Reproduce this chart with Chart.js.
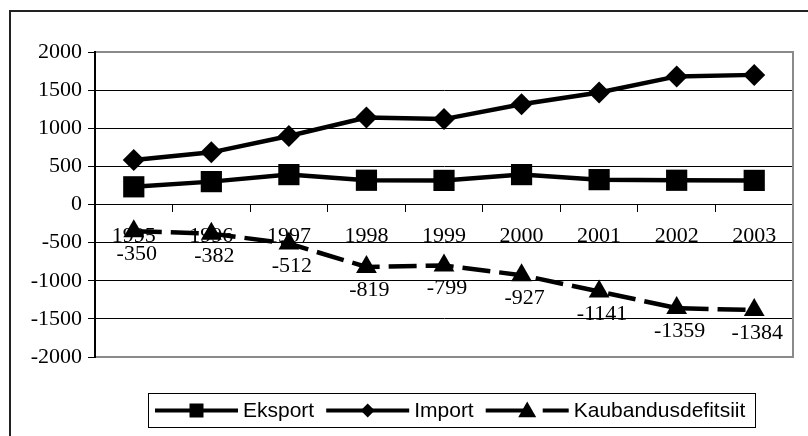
<!DOCTYPE html>
<html><head><meta charset="utf-8">
<style>
html,body{margin:0;padding:0;background:#fff;}
#wrap{position:relative;width:808px;height:436px;overflow:hidden;background:#fff;}
#frame{position:absolute;left:9px;top:10px;width:830px;height:460px;border-left:2px solid #222;border-top:2px solid #222;box-sizing:border-box;}
canvas{position:absolute;left:0;top:0;}
</style>
<script src="https://cdn.jsdelivr.net/npm/chart.js@4/dist/chart.umd.min.js"></script>
</head><body>
<div id="wrap"><div id="frame"></div><canvas id="c" width="808" height="436"></canvas></div>
<script>
const years = ['1995','1996','1997','1998','1999','2000','2001','2002','2003'];
const eksport = [232, 300, 392, 318, 316, 392, 326, 318, 316];
const importV = [585, 684, 898, 1140, 1120, 1315, 1470, 1680, 1700];
const defitsiit = [-350, -382, -512, -819, -799, -927, -1141, -1359, -1384];
const seriesNames = ['Eksport', 'Import', 'Kaubandusdefitsiit'];
const yMin = -2000, yMax = 2000, yStep = 500;

const SERIF = '"Liberation Serif", "Times New Roman", serif';
const SANS = '"Liberation Sans", Arial, sans-serif';

const plotFrame = {
  id: 'plotFrame',
  afterDraw(chart) {
    const {ctx, chartArea: a} = chart;
    ctx.save();
    ctx.strokeStyle = '#8a8a8a';
    ctx.lineWidth = 2;
    ctx.beginPath();
    ctx.moveTo(a.left + 1, a.top);
    ctx.lineTo(a.right, a.top);
    ctx.lineTo(a.right, a.bottom);
    ctx.lineTo(a.left + 1, a.bottom);
    ctx.stroke();
    ctx.restore();
  }
};

const valueLabels = {
  id: 'valueLabels',
  afterDatasetsDraw(chart) {
    const ctx = chart.ctx;
    const meta = chart.getDatasetMeta(2);
    ctx.save();
    ctx.font = '22px ' + SERIF;
    ctx.fillStyle = '#000';
    ctx.textAlign = 'center';
    ctx.textBaseline = 'middle';
    meta.data.forEach((pt, i) => {
      ctx.fillText(String(defitsiit[i]), pt.x + 3, pt.y + 23);
    });
    ctx.restore();
  }
};

function drawMarker(ctx, style, x, y, r) {
  ctx.beginPath();
  if (style === 'rect') {
    ctx.rect(x - r, y - r, 2 * r, 2 * r);
  } else if (style === 'diamond') {
    ctx.moveTo(x, y - r); ctx.lineTo(x + r, y); ctx.lineTo(x, y + r); ctx.lineTo(x - r, y); ctx.closePath();
  } else {
    ctx.moveTo(x, y - r); ctx.lineTo(x + r * 1.0, y + r * 0.75); ctx.lineTo(x - r * 1.0, y + r * 0.75); ctx.closePath();
  }
  ctx.fill();
}

const customLegend = {
  id: 'customLegend',
  afterDraw(chart) {
    const ctx = chart.ctx;
    const box = {l: 148.5, t: 393.5, r: 755.5, b: 427.5};
    const cy = (box.t + box.b) / 2;
    ctx.save();
    ctx.strokeStyle = '#000';
    ctx.lineWidth = 1;
    ctx.strokeRect(box.l, box.t, box.r - box.l, box.b - box.t);
    ctx.font = '21px ' + SANS;
    ctx.textBaseline = 'middle';
    ctx.textAlign = 'left';
    ctx.fillStyle = '#000';
    const styles = ['rect', 'diamond', 'tri'];
    const sizes = [7, 7, 9];
    let x = 155;
    seriesNames.forEach((name, i) => {
      const sw = 83;
      ctx.strokeStyle = '#000';
      ctx.lineWidth = 4;
      ctx.beginPath();
      if (i === 2) {
        ctx.moveTo(x, cy); ctx.lineTo(x + sw / 2, cy);
        ctx.moveTo(x + 57, cy); ctx.lineTo(x + sw, cy);
      } else {
        ctx.moveTo(x, cy); ctx.lineTo(x + sw, cy);
      }
      ctx.stroke();
      drawMarker(ctx, styles[i], x + sw / 2, cy, sizes[i]);
      const tx = x + sw + 5;
      ctx.fillText(name, tx, cy + 1);
      x = tx + ctx.measureText(name).width + 12;
    });
    ctx.restore();
  }
};

new Chart(document.getElementById('c'), {
  type: 'line',
  data: {
    labels: years,
    datasets: [
      {label: seriesNames[0], data: eksport, borderColor: '#000', backgroundColor: '#000', borderWidth: 4.5,
       pointStyle: 'rect', pointRadius: 15, pointBorderWidth: 0, pointBackgroundColor: '#000', tension: 0},
      {label: seriesNames[1], data: importV, borderColor: '#000', backgroundColor: '#000', borderWidth: 4.5,
       pointStyle: 'rectRot', pointRadius: 11, pointBorderWidth: 0, pointBackgroundColor: '#000', tension: 0},
      {label: seriesNames[2], data: defitsiit, borderColor: '#000', backgroundColor: '#000', borderWidth: 4.5,
       borderDash: [28, 9], pointStyle: 'triangle', pointRadius: 12, pointBorderWidth: 0, pointBackgroundColor: '#000', tension: 0}
    ]
  },
  options: {
    responsive: false,
    devicePixelRatio: 1,
    animation: false,
    layout: {padding: {left: 0, right: 10, top: 52, bottom: 79}},
    plugins: {legend: {display: false}, tooltip: {enabled: false}},
    scales: {
      y: {
        min: yMin, max: yMax,
        afterFit(s) { s.width = 95; },
        ticks: {stepSize: yStep, color: '#000', font: {family: SERIF, size: 22}, padding: 6,
                callback: v => String(v)},
        grid: {color: '#000', lineWidth: 1, tickLength: 7, tickColor: '#000'},
        border: {color: '#000', width: 2}
      },
      x: {
        position: {y: 0},
        offset: true,
        afterFit(s) { s.height = 0; },
        ticks: {color: '#000', font: {family: SERIF, size: 22}, padding: 12, maxRotation: 0, autoSkip: false},
        grid: {offset: true, drawOnChartArea: false, tickLength: 7, color: '#000', tickColor: '#000'},
        border: {color: '#000', width: 1}
      }
    }
  },
  plugins: [plotFrame, valueLabels, customLegend]
});
</script>
</body></html>
